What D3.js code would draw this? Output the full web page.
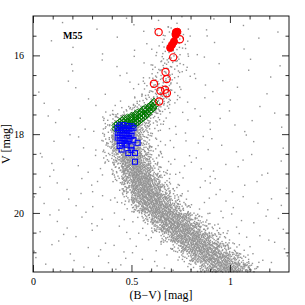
<!DOCTYPE html>
<html>
<head>
<meta charset="utf-8">
<script src="https://cdn.jsdelivr.net/npm/d3@7"></script>
<style>
body { margin: 0; background: #fff; }
text { font-family: "Liberation Serif", serif; fill: #000; }
</style>
</head>
<body>
<script>
// tick values
var xMajor = [0, 0.5, 1];
var xMinor = [0.1, 0.2, 0.3, 0.4, 0.6, 0.7, 0.8, 0.9, 1.1, 1.2];
var yMajor = [16, 18, 20];
var yMinor = [15.5, 16.5, 17, 17.5, 18.5, 19, 19.5, 20.5, 21];

// red giants (open circles)
var redOpenBV = [0.638, 0.746, 0.712, 0.673, 0.679, 0.614, 0.647, 0.671, 0.680, 0.641];
var redOpenV  = [15.41, 15.59, 16.05, 16.42, 16.60, 16.72, 16.90, 16.87, 16.96, 17.17];

// red giants (filled circles)
var redFillBV = [0.726, 0.733, 0.724, 0.716, 0.706, 0.697];
var redFillV  = [15.41, 15.40, 15.48, 15.65, 15.73, 15.81];

// subgiants (green diamonds)
var greenBV = [0.42, 0.44, 0.46,
    0.43, 0.45, 0.48,
    0.42, 0.44, 0.46, 0.49, 0.51,
    0.43, 0.45, 0.47, 0.50, 0.52,
    0.44, 0.46, 0.48, 0.51, 0.53,
    0.45, 0.47, 0.50, 0.52, 0.54,
    0.46, 0.48, 0.50, 0.53, 0.55,
    0.48, 0.50, 0.52, 0.54, 0.56,
    0.50, 0.52, 0.55, 0.57,
    0.52, 0.54, 0.56, 0.58,
    0.53, 0.55, 0.58,
    0.55, 0.57, 0.59,
    0.56, 0.58, 0.60,
    0.57, 0.59, 0.61,
    0.59, 0.61,
    0.60, 0.62,
    0.61, 0.615];
var greenV = [17.86, 17.86, 17.86,
    17.82, 17.82, 17.82,
    17.78, 17.78, 17.78, 17.78, 17.78,
    17.74, 17.74, 17.74, 17.74, 17.74,
    17.70, 17.70, 17.70, 17.70, 17.70,
    17.66, 17.66, 17.66, 17.66, 17.66,
    17.62, 17.62, 17.62, 17.62, 17.62,
    17.58, 17.58, 17.58, 17.58, 17.58,
    17.54, 17.54, 17.54, 17.54,
    17.50, 17.50, 17.50, 17.50,
    17.46, 17.46, 17.46,
    17.42, 17.42, 17.42,
    17.38, 17.38, 17.38,
    17.34, 17.34, 17.34,
    17.30, 17.30,
    17.26, 17.26,
    17.22, 17.18];

// turn-off stars (blue squares)
var blueBV = [0.44, 0.46, 0.48, 0.50,
    0.43, 0.45, 0.47, 0.49, 0.51,
    0.44, 0.46, 0.48, 0.50,
    0.43, 0.45, 0.47, 0.49,
    0.44, 0.46, 0.48, 0.50,
    0.43, 0.45, 0.47, 0.49,
    0.44, 0.46, 0.48, 0.51,
    0.45, 0.47, 0.44, 0.476, 0.50, 0.531,
    0.45, 0.50, 0.484, 0.518, 0.518];
var blueV = [17.78, 17.77, 17.79, 17.80,
    17.84, 17.83, 17.85, 17.86, 17.84,
    17.90, 17.91, 17.90, 17.92,
    17.96, 17.97, 17.98, 17.97,
    18.03, 18.02, 18.04, 18.05,
    18.09, 18.10, 18.11, 18.12,
    18.16, 18.17, 18.18, 18.15,
    18.23, 18.24, 18.30, 18.28, 18.31, 18.22,
    18.39, 18.40, 18.48, 18.48, 18.70];

// field stars: counts per cell, 0.1 mag in B-V by 0.5 mag in V (from V=15)
var fieldCounts = [
    [0, 1, 0, 1, 1, 2, 2, 3, 1, 1, 1, 0, 1],
    [1, 0, 1, 1, 1, 2, 3, 2, 2, 1, 1, 1, 0],
    [0, 1, 1, 1, 2, 2, 3, 3, 2, 1, 1, 1, 1],
    [1, 1, 1, 1, 2, 3, 4, 3, 2, 2, 1, 1, 1],
    [1, 1, 1, 2, 3, 4, 4, 3, 2, 2, 1, 1, 1],
    [1, 1, 2, 3, 6, 7, 4, 3, 2, 2, 2, 1, 1],
    [1, 2, 2, 3, 7, 8, 5, 3, 3, 2, 2, 1, 1],
    [2, 2, 2, 3, 5, 9, 7, 4, 3, 2, 2, 2, 1],
    [2, 2, 2, 3, 4, 8, 9, 5, 3, 3, 2, 2, 1],
    [2, 2, 3, 3, 4, 6, 9, 8, 4, 3, 2, 2, 2],
    [2, 2, 2, 3, 4, 5, 7, 9, 8, 4, 3, 2, 2],
    [2, 2, 2, 2, 3, 4, 5, 7, 9, 8, 4, 3, 2],
    [2, 2, 2, 2, 3, 3, 4, 6, 8, 9, 7, 3, 2]
];

// cluster sequence: counts per cell, 0.05 mag in B-V by 0.25 mag in V
// row i covers V = 15.25 + 0.25*i ; counts start at column seqStart[i]
var seqStart = [12, 13, 12, 12, 12, 11, 11, 10, 8, 7, 7, 7, 7,
    7, 8, 8, 9, 9, 10, 11, 12, 13, 14, 15, 16];
var seqCounts = [
    [2, 3, 4, 2],
    [3, 5, 4],
    [2, 5, 6, 2],
    [3, 8, 8, 2],
    [5, 10, 6, 1],
    [3, 10, 12, 4],
    [5, 14, 12, 3],
    [4, 10, 16, 14, 3],
    [3, 8, 18, 25, 20, 6],
    [5, 16, 32, 35, 25, 8, 2],
    [8, 34, 48, 42, 16, 4],
    [10, 45, 60, 50, 14, 4],
    [8, 40, 65, 55, 18, 5],
    [6, 25, 65, 65, 30, 6],
    [15, 55, 70, 48, 12, 3],
    [8, 40, 70, 65, 30, 6],
    [25, 60, 70, 50, 16, 4],
    [10, 45, 65, 65, 40, 10, 3],
    [25, 55, 65, 60, 35, 10],
    [18, 50, 65, 60, 45, 15, 4],
    [22, 55, 65, 60, 45, 15, 4],
    [20, 50, 60, 60, 45, 18, 5],
    [14, 45, 60, 60, 50, 22, 6],
    [10, 40, 55, 60, 50, 28, 7],
    [6, 30, 50, 55, 50, 32, 9]
];

var W = 305, H = 305;
var x = d3.scaleLinear().domain([0, 1.3]).range([33, 289]);
var y = d3.scaleLinear().domain([15, 21.5]).range([16, 272]);

var svg = d3.select("body").append("svg")
    .attr("width", W)
    .attr("height", H);

// spread the counted stars of each cell over it (halton, not random)
function halton(i, b) {
    var f = 1, r = 0;
    while (i > 0) { f = f / b; r += f * (i % b); i = Math.floor(i / b); }
    return r;
}
var dots = [];
var k = 1;
function fillCell(bv0, bv1, v0, v1, n) {
    for (var j = 0; j < n; j++) {
        dots.push({bv: bv0 + (bv1 - bv0) * halton(k, 2),
                   v: v0 + (v1 - v0) * halton(k, 3)});
        k++;
    }
}
fieldCounts.forEach(function(row, r) {
    row.forEach(function(n, c) {
        fillCell(c * 0.1, c * 0.1 + 0.1, 15 + r * 0.5, 15.5 + r * 0.5, n);
    });
});
seqCounts.forEach(function(row, r) {
    row.forEach(function(n, j) {
        var c = seqStart[r] + j;
        var v0 = 15.25 + r * 0.25;
        fillCell(c * 0.05, c * 0.05 + 0.05, v0, v0 + 0.25, n);
    });
});

var plot = svg.append("g");
plot.selectAll("rect.star")
    .data(dots)
    .enter().append("rect")
    .attr("class", "star")
    .attr("x", function(d) { return x(d.bv) - 0.7; })
    .attr("y", function(d) { return y(d.v) - 0.7; })
    .attr("width", 1.4)
    .attr("height", 1.4)
    .attr("fill", "#939393");

// green open diamonds
plot.selectAll("path.sgb")
    .data(d3.zip(greenBV, greenV))
    .enter().append("path")
    .attr("class", "sgb")
    .attr("d", function(d) {
        var cx = x(d[0]), cy = y(d[1]), s = 3.8;
        return "M" + cx + "," + (cy - s) + "L" + (cx + s) + "," + cy +
            "L" + cx + "," + (cy + s) + "L" + (cx - s) + "," + cy + "Z";
    })
    .attr("fill", "none")
    .attr("stroke", "#007a00")
    .attr("stroke-width", 1);

// blue open squares
plot.selectAll("rect.to")
    .data(d3.zip(blueBV, blueV))
    .enter().append("rect")
    .attr("class", "to")
    .attr("x", function(d) { return x(d[0]) - 2.5; })
    .attr("y", function(d) { return y(d[1]) - 2.5; })
    .attr("width", 5)
    .attr("height", 5)
    .attr("fill", "none")
    .attr("stroke", "#0000ff")
    .attr("stroke-width", 1);

// red circles
plot.selectAll("circle.rgbo")
    .data(d3.zip(redOpenBV, redOpenV))
    .enter().append("circle")
    .attr("class", "rgbo")
    .attr("cx", function(d) { return x(d[0]); })
    .attr("cy", function(d) { return y(d[1]); })
    .attr("r", 3.6)
    .attr("fill", "none")
    .attr("stroke", "#ff0000")
    .attr("stroke-width", 1.2);

plot.selectAll("circle.rgbf")
    .data(d3.zip(redFillBV, redFillV))
    .enter().append("circle")
    .attr("class", "rgbf")
    .attr("cx", function(d) { return x(d[0]); })
    .attr("cy", function(d) { return y(d[1]); })
    .attr("r", 3.6)
    .attr("fill", "#ff0000")
    .attr("stroke", "#ff0000")
    .attr("stroke-width", 1);

// axes, ticks pointing inward on all four sides
function styleAxis(g) {
    g.select(".domain").remove();
    g.selectAll("line").attr("stroke", "#000").attr("stroke-width", 0.8);
    g.selectAll("text").attr("font-family", "Liberation Serif")
        .attr("font-size", 10).attr("fill", "#000");
}
var fmt = d3.format("");
svg.append("g").attr("transform", "translate(0,272)")
    .call(d3.axisBottom(x).tickValues(xMajor).tickSizeInner(-7)
        .tickSizeOuter(0).tickPadding(6).tickFormat(fmt))
    .call(styleAxis);
svg.append("g").attr("transform", "translate(0,272)")
    .call(d3.axisBottom(x).tickValues(xMinor).tickSizeInner(-3.5)
        .tickSizeOuter(0).tickFormat(""))
    .call(styleAxis);
svg.append("g").attr("transform", "translate(0,16)")
    .call(d3.axisTop(x).tickValues(xMajor).tickSizeInner(-7)
        .tickSizeOuter(0).tickFormat(""))
    .call(styleAxis);
svg.append("g").attr("transform", "translate(0,16)")
    .call(d3.axisTop(x).tickValues(xMinor).tickSizeInner(-3.5)
        .tickSizeOuter(0).tickFormat(""))
    .call(styleAxis);
svg.append("g").attr("transform", "translate(33,0)")
    .call(d3.axisLeft(y).tickValues(yMajor).tickSizeInner(-7)
        .tickSizeOuter(0).tickPadding(9).tickFormat(fmt))
    .call(styleAxis);
svg.append("g").attr("transform", "translate(33,0)")
    .call(d3.axisLeft(y).tickValues(yMinor).tickSizeInner(-3.5)
        .tickSizeOuter(0).tickFormat(""))
    .call(styleAxis);
svg.append("g").attr("transform", "translate(289,0)")
    .call(d3.axisRight(y).tickValues(yMajor).tickSizeInner(-7)
        .tickSizeOuter(0).tickFormat(""))
    .call(styleAxis);
svg.append("g").attr("transform", "translate(289,0)")
    .call(d3.axisRight(y).tickValues(yMinor).tickSizeInner(-3.5)
        .tickSizeOuter(0).tickFormat(""))
    .call(styleAxis);

svg.append("rect")
    .attr("x", 33).attr("y", 16)
    .attr("width", 256).attr("height", 256)
    .attr("fill", "none")
    .attr("stroke", "#000")
    .attr("stroke-width", 0.9);

svg.append("text")
    .attr("x", 161).attr("y", 299)
    .attr("text-anchor", "middle")
    .attr("font-size", 12)
    .text("(B\u2212V) [mag]");

svg.append("text")
    .attr("transform", "translate(10,144) rotate(-90)")
    .attr("text-anchor", "middle")
    .attr("font-size", 12)
    .text("V [mag]");

svg.append("text")
    .attr("x", 63).attr("y", 39)
    .attr("font-size", 10)
    .attr("font-weight", "bold")
    .text("M55");
</script>
</body>
</html>
